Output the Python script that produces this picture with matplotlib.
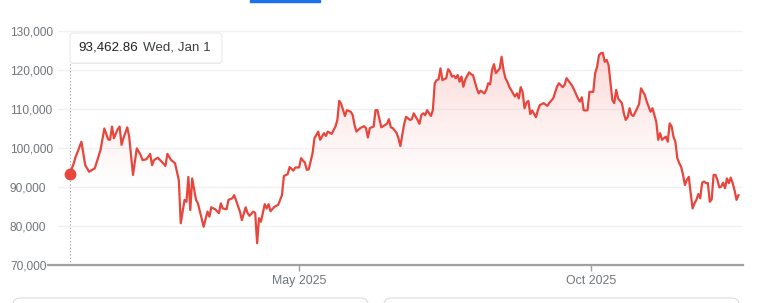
import numpy as np
import pandas as pd
import matplotlib
matplotlib.use("Agg")
import matplotlib.pyplot as plt
import matplotlib.dates as mdates
from matplotlib.colors import to_rgb
from matplotlib.patches import FancyBboxPatch, Rectangle
from matplotlib.transforms import IdentityTransform

# days after 2025-01-01
days = [0, 2, 3, 4, 6, 8, 10, 11, 13, 16, 18, 20, 21, 22, 23, 25, 26, 27, 28, 30,
        31, 33, 35, 37, 38, 40, 42, 43, 44, 46, 48, 50, 51, 53, 55, 57, 58, 60, 61, 62,
        63, 64, 66, 67, 70, 72, 73, 74, 76, 78, 79, 80, 82, 83, 85, 86, 87, 89, 90, 92,
        93, 94, 96, 97, 98, 99, 100, 102, 103, 104, 105, 107, 109, 111, 112, 114, 115, 117, 118, 120,
        121, 123, 124, 125, 127, 128, 130, 131, 133, 134, 135, 137, 139, 140, 141, 142, 144, 145, 147, 148,
        149, 150, 152, 154, 155, 156, 157, 159, 160, 161, 163, 164, 166, 167, 168, 169, 171, 172, 173, 174,
        175, 176, 178, 179, 180, 182, 183, 184, 185, 186, 187, 189, 190, 191, 192, 193, 194, 195, 197, 198,
        199, 200, 201, 202, 203, 204, 205, 206, 207, 209, 210, 211, 213, 214, 215, 217, 218, 219, 220, 221,
        222, 223, 225, 226, 227, 228, 229, 230, 231, 232, 233, 234, 235, 236, 237, 238, 239, 240, 241, 242,
        244, 245, 246, 248, 250, 251, 253, 255, 256, 258, 259, 260, 262, 263, 264, 266, 267, 268, 269, 270,
        271, 272, 274, 275, 276, 277, 278, 279, 280, 281, 282, 284, 285, 286, 287, 289, 290, 291, 292, 293,
        294, 295, 297, 298, 299, 301, 302, 304, 305, 306, 307, 308, 309, 310, 311, 312, 313, 314, 315, 316,
        317, 318, 319, 320, 321, 322, 323, 324, 325, 326, 327, 328, 329, 330, 331, 332, 333, 334, 335, 336,
        337, 338, 339, 340, 341, 342, 343, 344, 345, 346, 347, 348, 349, 350]

# price in thousands of USD
price_k = [93.46, 96.1, 97.8, 99.0, 101.6, 95.6, 93.9, 94.2, 94.8, 99.5, 105.0, 102.2, 102.1, 105.5, 102.5, 104.8, 105.5, 100.8, 102.5, 105.3,
           102.9, 93.1, 99.9, 98.2, 96.9, 97.1, 98.5, 95.6, 96.9, 97.5, 96.5, 95.4, 98.5, 96.9, 96.1, 91.8, 80.7, 86.7, 86.2, 92.6,
           84.1, 92.2, 86.7, 85.8, 79.8, 83.7, 82.4, 84.8, 84.3, 83.3, 85.8, 84.5, 84.3, 86.7, 87.1, 87.9, 86.5, 83.7, 81.5, 84.8,
           83.3, 82.6, 83.7, 83.3, 75.6, 82.0, 81.1, 85.6, 84.5, 85.6, 83.8, 84.9, 85.4, 87.9, 92.8, 93.3, 95.1, 94.2, 95.0, 95.0,
           97.4, 96.2, 94.4, 94.5, 98.6, 102.5, 104.2, 102.1, 103.8, 103.1, 104.2, 103.6, 105.5, 107.2, 112.1, 111.3, 108.2, 109.7, 109.3, 108.5,
           105.9, 104.2, 105.1, 105.6, 105.1, 102.7, 105.1, 105.5, 109.7, 109.7, 105.3, 105.6, 106.2, 107.4, 105.3, 105.1, 103.9, 102.5, 100.5, 103.3,
           106.2, 108.0, 107.2, 107.4, 108.9, 107.2, 106.2, 108.5, 108.9, 108.4, 109.7, 108.2, 109.7, 116.6, 117.4, 117.6, 120.4, 117.4, 117.9, 120.2,
           119.6, 118.3, 118.5, 117.9, 118.7, 117.0, 118.3, 115.7, 117.6, 119.4, 118.9, 118.7, 115.3, 114.0, 114.7, 114.0, 114.9, 116.6, 116.3, 120.0,
           121.5, 119.2, 120.4, 123.4, 120.0, 117.9, 117.0, 115.7, 114.9, 114.0, 113.2, 114.0, 112.7, 115.6, 114.4, 110.2, 111.6, 112.1, 108.7, 109.6,
           107.9, 109.7, 111.0, 111.5, 110.8, 111.6, 112.7, 115.7, 116.6, 115.6, 116.2, 117.9, 116.6, 115.9, 114.9, 112.7, 111.9, 113.0, 109.7, 109.6,
           109.7, 114.4, 114.4, 119.2, 120.8, 123.8, 124.3, 124.4, 122.1, 122.6, 121.3, 112.3, 111.5, 114.9, 112.7, 111.5, 108.9, 107.2, 107.9, 110.2,
           108.5, 108.2, 110.2, 111.3, 115.3, 113.6, 111.9, 109.3, 110.2, 108.5, 106.7, 102.1, 103.8, 102.1, 102.5, 102.9, 101.6, 106.3, 105.6, 102.9,
           101.6, 97.4, 96.1, 95.2, 93.1, 90.5, 91.8, 92.6, 88.4, 84.5, 85.8, 86.7, 88.2, 87.1, 91.1, 91.4, 91.0, 91.0, 86.2, 86.8,
           93.1, 93.1, 91.8, 89.9, 90.1, 91.1, 89.7, 92.2, 91.0, 92.4, 91.0, 89.1, 86.7, 87.9]

y_ticks = [70000, 80000, 90000, 100000, 110000, 120000, 130000]
x_tick_dates = ["2025-05-01", "2025-10-01"]
x_tick_labels = ["May 2025", "Oct 2025"]
tooltip_value = "93,462.86"
tooltip_date = "Wed, Jan 1"

RED = "#e8453c"
GRAY = "#70757a"
AXIS = "#a0a0a0"

plt.rcParams["font.family"] = ["Liberation Sans", "DejaVu Sans"]

W, H = 767, 303
fig = plt.figure(figsize=(W / 100, H / 100), dpi=100)
ax = fig.add_axes([48 / W, 1 - 265 / H, 695 / W, 234 / H])

start = pd.Timestamp("2025-01-01")
dates = start + pd.to_timedelta(days, unit="D")
x = mdates.date2num(dates.to_pydatetime())
y = np.array(price_k) * 1000
x_lo = mdates.date2num(start.to_pydatetime()) - 11.5
x_hi = mdates.date2num(start.to_pydatetime()) + 352.4

# gradient fill under the line, clipped to the area below it
fill = ax.fill_between(x, y, y_ticks[0], facecolor="none", edgecolor="none")
clip = fill.get_paths()[0]
levels = np.linspace(y_ticks[0], y_ticks[-1], 300)
grad = np.zeros((300, 1, 4))
grad[:, 0, :3] = to_rgb(RED)
grad[:, 0, 3] = 0.2 * np.clip((levels - 88000) / 36000, 0, 1) ** 1.3
im = ax.imshow(grad, extent=[x_lo, x_hi, y_ticks[0], y_ticks[-1]], origin="lower",
               aspect="auto", zorder=1, interpolation="bilinear")
im.set_clip_path(clip, transform=ax.transData)

for v in y_ticks[1:]:
    ax.axhline(v, xmin=10 / 695, color="#f1f1f1", lw=1, zorder=0)

ax.vlines(x[0], y_ticks[0], 121800, colors="#9aa0a6", linestyles=(0, (1, 2)), lw=0.8, zorder=2)
ax.plot(x, y, color=RED, lw=1.6, zorder=3, solid_joinstyle="round")
ax.plot(x[0], y[0], "o", ms=7.5, color=RED, zorder=4)

ax.set_xlim(x_lo, x_hi)
ax.set_ylim(y_ticks[0], y_ticks[-1])
for s in ["top", "right", "left"]:
    ax.spines[s].set_visible(False)
ax.spines["bottom"].set_color(AXIS)
ax.spines["bottom"].set_linewidth(1.6)

ax.set_yticks(y_ticks)
ax.set_yticklabels([f"{v:,}" for v in y_ticks])
ax.tick_params(axis="y", length=0, pad=27.4, labelsize=8.6, labelcolor=GRAY)
for lab in ax.get_yticklabels():
    lab.set_horizontalalignment("left")

ax.set_xticks(mdates.date2num(pd.to_datetime(x_tick_dates).to_pydatetime()))
ax.set_xticklabels(x_tick_labels)
ax.tick_params(axis="x", length=4, width=1, color=AXIS, pad=3.2, labelsize=8.9, labelcolor=GRAY)

# overlay pieces in pixel coordinates
px = IdentityTransform()
fig.patches.append(FancyBboxPatch((70, H - 64), 152, 30, boxstyle="round,pad=0,rounding_size=3",
                                  transform=px, fc="black", ec="none", alpha=0.07, figure=fig))
fig.patches.append(FancyBboxPatch((70, H - 63), 152, 30, boxstyle="round,pad=0,rounding_size=3",
                                  transform=px, fc="white", ec="#e4e4e4", lw=0.6, figure=fig))
fig.text(78 / W, 1 - 48 / H, tooltip_value, fontsize=9.6, color="#202124", va="center")
fig.text(143 / W, 1 - 48 / H, tooltip_date, fontsize=9.6, color="#3c4043", va="center")

fig.patches.append(Rectangle((250, H - 2), 70, 2, transform=px, color="#1a73e8", figure=fig))
for left, width in [(13, 355), (384, 355)]:
    fig.patches.append(FancyBboxPatch((left, -12), width, 17, boxstyle="round,pad=0,rounding_size=7",
                                      transform=px, fc="white", ec="#dadce0", lw=0.8, figure=fig))

fig.savefig("out.png", dpi=100)
